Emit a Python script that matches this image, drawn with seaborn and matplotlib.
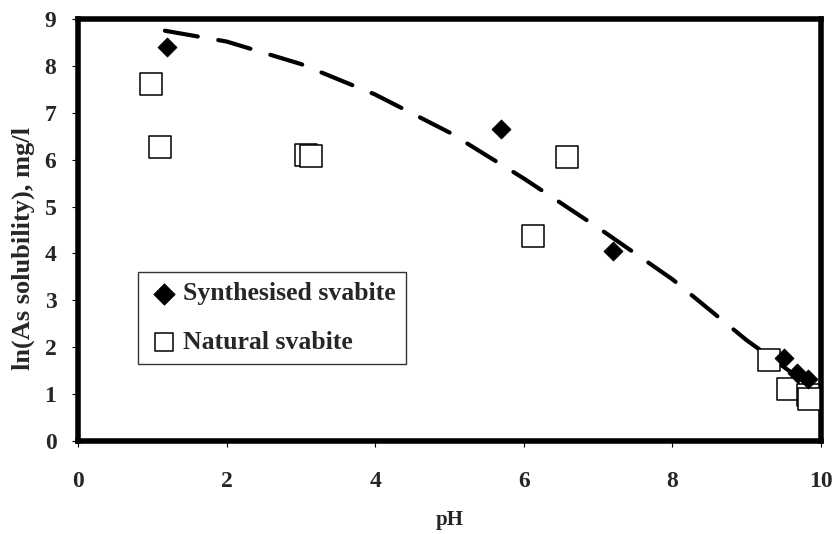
import matplotlib
matplotlib.use("Agg")
import matplotlib.pyplot as plt
import seaborn as sns
import pandas as pd

# Data
synth_ph = [1.2, 5.7, 7.2, 9.5, 9.68, 9.82]
synth_ln = [8.4, 6.65, 4.05, 1.78, 1.45, 1.33]

natural_ph = [0.98, 1.1, 3.07, 3.13, 6.13, 6.58, 9.3, 9.55, 9.82, 9.84]
natural_ln = [7.61, 6.27, 6.1, 6.08, 4.37, 6.06, 1.73, 1.12, 0.98, 0.9]

curve_ph = [1.17, 2.0, 3.0, 4.0, 5.0, 6.0, 7.0, 8.0, 9.0, 9.5, 10.0]
curve_ln = [8.75, 8.52, 8.04, 7.39, 6.58, 5.6, 4.55, 3.45, 2.15, 1.58, 1.0]

x_ticks = [0, 2, 4, 6, 8, 10]
y_ticks = list(range(0, 10))

sns.set_theme(style="white")
plt.rcParams['font.family'] = ['Liberation Serif', 'DejaVu Serif']
plt.rcParams['font.weight'] = 'bold'

fig = plt.figure(figsize=(8.34, 5.34), dpi=100)
ax = fig.add_axes([0.0935, 0.174, 0.8909, 0.7904])

curve_df = pd.DataFrame({"pH": curve_ph, "ln": curve_ln})
sns.lineplot(data=curve_df, x="pH", y="ln", ax=ax, color="black", lw=3,
             dashes=False, legend=False, sort=False, zorder=2)
line = ax.get_lines()[-1]
line.set_dashes([8, 5])
line.set_dash_capstyle("round")

nat_df = pd.DataFrame({"pH": natural_ph, "ln": natural_ln})
syn_df = pd.DataFrame({"pH": synth_ph, "ln": synth_ln})

sns.scatterplot(data=nat_df, x="pH", y="ln", ax=ax, marker="s", s=250,
                facecolor="white", edgecolor="black", linewidth=1.1,
                label="Natural svabite", zorder=3)
sns.scatterplot(data=syn_df, x="pH", y="ln", ax=ax, marker="D", s=95,
                color="black", edgecolor="black", linewidth=0.5,
                label="Synthesised svabite", zorder=4)

ax.set_xlim(0, 10)
ax.set_ylim(0, 9)
ax.set_xticks(x_ticks)
ax.set_yticks(y_ticks)
ax.set_xticklabels([str(v) for v in x_ticks], fontsize=17, fontweight="bold")
ax.set_yticklabels([str(v) for v in y_ticks], fontsize=17, fontweight="bold")
ax.tick_params(axis="both", direction="out", length=4.5, width=0.8, color="black",
               bottom=True, left=True)
ax.tick_params(axis="x", pad=17)
ax.tick_params(axis="y", pad=11)
ax.set_xlabel("pH", fontsize=15, fontweight="bold")
ax.set_ylabel("ln(As solubility), mg/l", fontsize=19, fontweight="bold")
ax.xaxis.set_label_coords(0.5, -0.163)
ax.yaxis.set_label_coords(-0.058, 0.457)

for sp in ax.spines.values():
    sp.set_visible(True)
    sp.set_color("black")
    sp.set_linewidth(4)

handles, labels = ax.get_legend_handles_labels()
order = [labels.index("Synthesised svabite"), labels.index("Natural svabite")]
leg = ax.legend([handles[i] for i in order], [labels[i] for i in order],
                loc="lower left", bbox_to_anchor=(0.081, 0.182),
                prop={"family": "Liberation Serif", "weight": "bold", "size": 18.5},
                frameon=True, fancybox=False, edgecolor="black",
                handletextpad=0.15, handlelength=1.2, labelspacing=1.0,
                borderpad=0.4, borderaxespad=0)
leg.get_frame().set_linewidth(1.0)
lh = leg.legend_handles
lh[0].set_sizes([120])
lh[1].set_sizes([165])

fig.savefig("out.png", dpi=100)
